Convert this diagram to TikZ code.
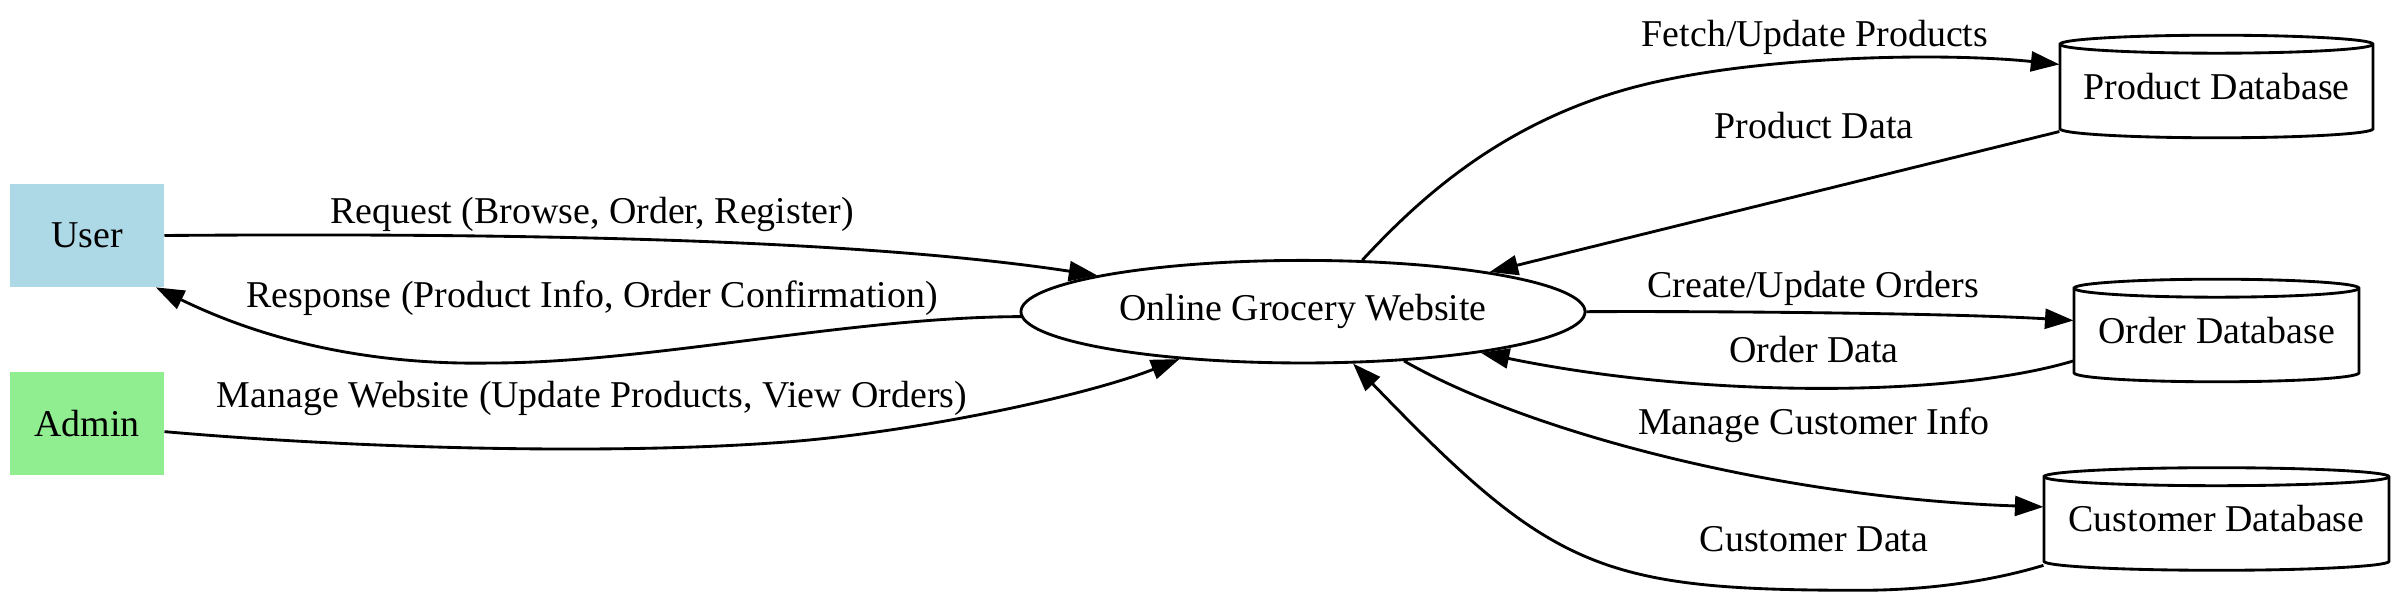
\documentclass[tikz,border=0pt]{standalone}
\usepackage{fontspec}
\setmainfont{Liberation Serif}
\usetikzlibrary{arrows.meta,shapes.geometric}
\definecolor{userblue}{HTML}{ADD8E6}
\definecolor{admingreen}{HTML}{90EE90}
\tikzset{
  every node/.style={font=\fontsize{13.3}{16}\selectfont},
  actor/.style={rectangle, minimum width=54pt, minimum height=36pt, inner sep=0pt},
  proc/.style={ellipse, draw, line width=1pt, minimum width=198pt, minimum height=36pt, inner sep=0pt},
  store/.style={rectangle, minimum height=36pt, inner sep=0pt},
  flow/.style={line width=1pt, -{Triangle[length=10pt,width=7pt]}},
  dbline/.style={line width=1pt},
  lbl/.style={anchor=base, inner sep=0pt},
}
% cylinder outline: centre x, centre y, half width, half height (picture units)
\newcommand{\dbcyl}[4]{%
  \draw[dbline] (#1-#3,#2+#4-9) -- (#1-#3,#2-#4+9)
     arc[start angle=180, end angle=360, x radius=#3, y radius=9]
     -- (#1+#3,#2+#4-9)
     arc[start angle=0, end angle=180, x radius=#3, y radius=9] -- cycle;
  \draw[dbline] (#1-#3,#2+#4-9) arc[start angle=180, end angle=360, x radius=#3, y radius=9];
}
\begin{document}
\begin{tikzpicture}[x=0.351pt, y=0.351pt]
\useasboundingbox (0,0) rectangle (2400,603);
\fill[white] (0,0) rectangle (2400,603);

% cylinders
\dbcyl{2216.5}{516.5}{156.5}{51.3}
\dbcyl{2216.5}{272.5}{142.5}{51.3}
\dbcyl{2216.5}{84}{172.5}{51.3}

% nodes
\node[actor, fill=userblue] (user) at (87,367.5) {User};
\node[actor, fill=admingreen] (admin) at (87,179.5) {Admin};
\node[proc] (web) at (1303,291.3) {Online Grocery Website};
\node[store, minimum width=109.9pt] (prod) at (2216.5,516.5) {Product Database};
\node[store, minimum width=100pt] (order) at (2216.5,272.5) {Order Database};
\node[store, minimum width=121.1pt] (cust) at (2216.5,84) {Customer Database};

% connectors
\draw[flow] (user.east) .. controls (500,370) and (850,365) .. (web.170.3);
\draw[flow] (web.181.1) .. controls (850,286) and (650,240) .. (491,240)
   .. controls (390,238) and (280,255) .. (user.-37);
\draw[flow] (admin.-6) .. controls (350,155) and (600,148) .. (772,160)
   .. controls (900,168) and (1080,205) .. (web.201.4);
\draw[flow] (web.41.6) .. controls (1420,405) and (1510,490) .. (1660,522)
   .. controls (1780,548) and (1950,550) .. (prod.172.2);
\draw[flow] (prod.196.2) -- (web.12.2);
\draw[flow] (web.east) .. controls (1700,292) and (1950,290) .. (order.176.2);
\draw[flow] (order.192.9) .. controls (1950,205) and (1700,205) .. (web.347.6);
\draw[flow] (web.334.9) .. controls (1530,170) and (1780,105) .. (cust.176.35);
\draw[flow] (cust.195.5) .. controls (1985,20) and (1920,12.7) .. (1860,12.7)
   .. controls (1600,12.7) and (1552,33) .. (web.314.3);

% labels
\node[lbl] (l1) at (592,379) {Request (Browse, Order, Register)};
\node[lbl] (l2) at (592,295) {Response (Product Info, Order Confirmation)};
\node[lbl] (l3) at (592,195) {Manage Website (Update Products, View Orders)};
\node[lbl] (l4) at (1815,556) {Fetch/Update Products};
\node[lbl] (l5) at (1814,464) {Product Data};
\node[lbl] (l6) at (1813,305) {Create/Update Orders};
\node[lbl] (l7) at (1814,240) {Order Data};
\node[lbl] (l8) at (1814,168) {Manage Customer Info};
\node[lbl] (l9) at (1814,51) {Customer Data};
\end{tikzpicture}
\end{document}
